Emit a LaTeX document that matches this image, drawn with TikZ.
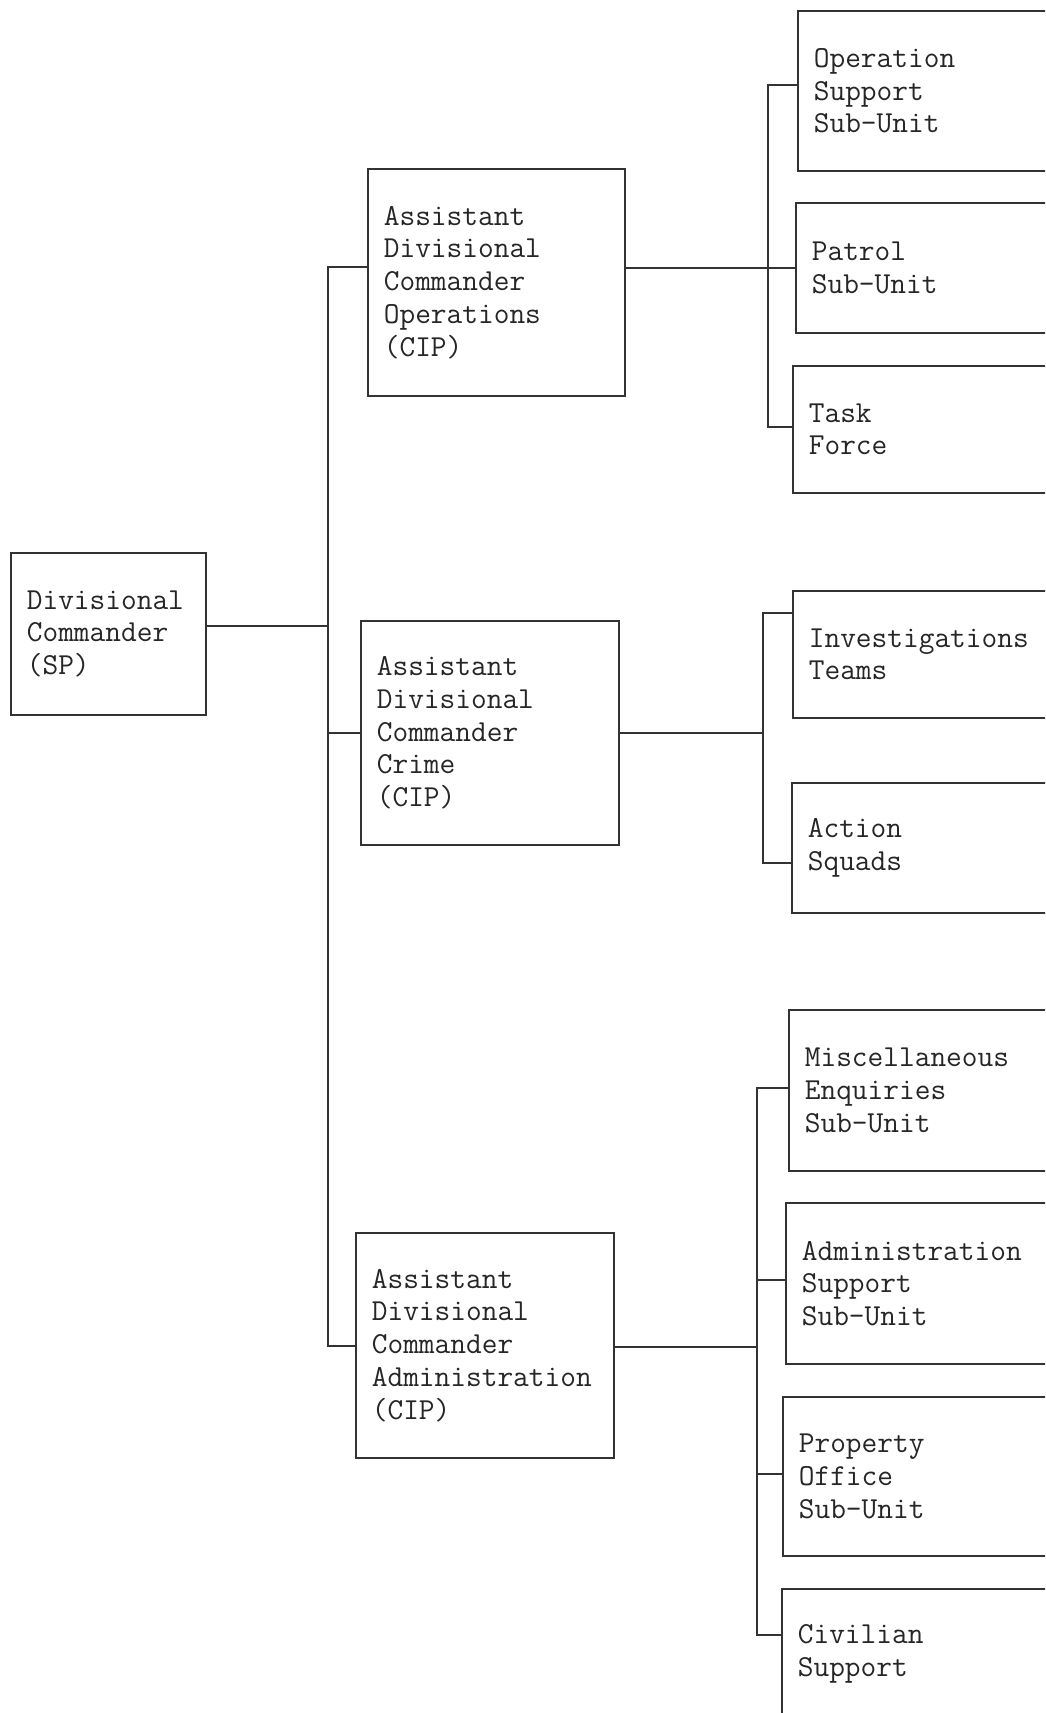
\documentclass[tikz,border=0pt]{standalone}
\usepackage{fontspec}
\begin{document}
\begin{tikzpicture}[x=1pt,y=-1pt,
  box/.style={draw=black!80, line width=1.7pt, anchor=north west, align=left,
    inner xsep=16pt, inner ysep=0pt,
    font=\ttfamily\fontsize{30.5}{32.7}\selectfont, text=black!85},
  rbox/.style={box, minimum width=300pt, text width=268pt},
  wire/.style={draw=black!80, line width=1.7pt}]
\useasboundingbox (0,0) rectangle (1045,1713);
\fill[white] (0,0) rectangle (1045,1713);
\clip (0,0) rectangle (1045,1713);

% left column
\node[box, minimum width=195pt, text width=163pt, minimum height=162pt] (dc) at (10,552) {Divisional\\Commander\\(SP)};

% middle column
\node[box, minimum width=257pt, text width=225pt, minimum height=227pt] (ops) at (367,168) {Assistant\\Divisional\\Commander\\Operations\\(CIP)};
\node[box, minimum width=258pt, text width=226pt, minimum height=224pt] (crime) at (360,620) {Assistant\\Divisional\\Commander\\Crime\\(CIP)};
\node[box, minimum width=258pt, text width=226pt, minimum height=225pt] (adm) at (355,1232) {Assistant\\Divisional\\Commander\\Administration\\(CIP)};

% right column
\node[rbox, minimum height=160pt] (opsup) at (797,10) {Operation\\Support\\Sub-Unit};
\node[rbox, minimum height=130pt] (patrol) at (795,202) {Patrol\\Sub-Unit};
\node[rbox, minimum height=127pt] (task) at (792,365) {Task\\Force};
\node[rbox, minimum height=127pt] (inv) at (792,590) {Investigations\\Teams};
\node[rbox, minimum height=130pt] (act) at (791,782) {Action\\Squads};
\node[rbox, minimum height=161pt] (misc) at (788,1009) {Miscellaneous\\Enquiries\\Sub-Unit};
\node[rbox, minimum height=161pt] (admsup) at (785,1202) {Administration\\Support\\Sub-Unit};
\node[rbox, minimum height=159pt] (prop) at (782,1396) {Property\\Office\\Sub-Unit};
\node[rbox, minimum height=130pt] (civ) at (781,1588) {Civilian\\Support};

% main trunk
\coordinate (m1) at (328,267);
\coordinate (m2) at (328,626);
\coordinate (m3) at (328,733);
\coordinate (m4) at (328,1346);
\draw[wire] (ops.west |- m1) -- (m1) -- (m4) -- (adm.west |- m4);
\draw[wire] (dc.east |- m2) -- (m2);
\draw[wire] (crime.west |- m3) -- (m3);

% operations sub-trunk
\coordinate (s1) at (768,85);
\coordinate (s2) at (768,268);
\coordinate (s3) at (768,427);
\draw[wire] (opsup.west |- s1) -- (s1) -- (s3) -- (task.west |- s3);
\draw[wire] (ops.east |- s2) -- (patrol.west |- s2);

% crime sub-trunk
\coordinate (c1) at (763,613);
\coordinate (c2) at (763,733);
\coordinate (c3) at (763,863);
\draw[wire] (inv.west |- c1) -- (c1) -- (c3) -- (act.west |- c3);
\draw[wire] (crime.east |- c2) -- (c2);

% administration sub-trunk
\coordinate (a1) at (757,1088);
\coordinate (a2) at (757,1280);
\coordinate (a3) at (757,1347);
\coordinate (a4) at (757,1474);
\coordinate (a5) at (757,1635);
\draw[wire] (misc.west |- a1) -- (a1) -- (a5) -- (civ.west |- a5);
\draw[wire] (admsup.west |- a2) -- (a2);
\draw[wire] (prop.west |- a4) -- (a4);
\draw[wire] (adm.east |- a3) -- (a3);
\end{tikzpicture}
\end{document}
